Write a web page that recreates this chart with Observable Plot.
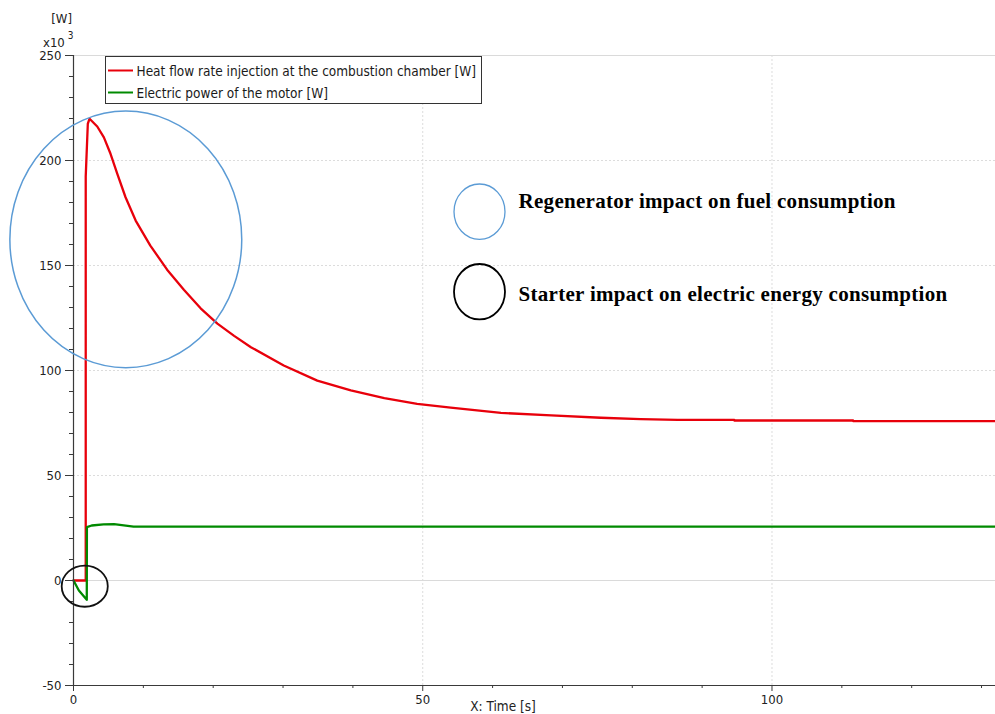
<!DOCTYPE html>
<html>
<head>
<meta charset="utf-8">
<script src="https://cdn.jsdelivr.net/npm/d3@7"></script>
<script src="https://cdn.jsdelivr.net/npm/@observablehq/plot@0.6"></script>
<style>
  html, body { margin: 0; padding: 0; background: #fff; }
  #chart { width: 995px; height: 714px; overflow: hidden; }
</style>
</head>
<body>
<div id="chart"></div>
<script>
// ---- Data (values in x10^3 W, time in s) ----
const heatTime  = [0, 1.75, 1.75, 2.05, 2.3, 3.4, 4.35, 5.3, 6.26, 7.45, 8.9, 11.0, 13.4, 15.8, 18.2, 20.6, 23.0, 25.4, 30.1, 34.9, 39.7, 44.5, 49.2, 54.0, 61.2, 68.4, 75.5, 81.2, 86.5, 94.6, 94.6, 111.6, 111.6, 132];
const heatFlow  = [0, 0, 192.4, 217.5, 219.9, 216.2, 211.0, 203.2, 193.7, 182.5, 171.4, 159.5, 148.0, 138.5, 129.6, 122.3, 116.5, 111.1, 102.4, 95.2, 90.5, 86.8, 84.1, 82.3, 79.8, 78.6, 77.5, 76.8, 76.5, 76.5, 76.2, 76.2, 75.9, 75.9];
const motorTime  = [0, 0.77, 1.9, 1.92, 2.6, 4.3, 5.8, 7.2, 8.6, 132];
const motorPower = [0, -4.8, -9.2, 25.4, 26.2, 26.7, 26.8, 26.3, 25.7, 25.7];

const seriesNames = ["Heat flow rate injection at the combustion chamber [W]", "Electric power of the motor [W]"];
const seriesColors = ["#e8000b", "#008a00"];

const yTicks = [-50, 0, 50, 100, 150, 200, 250];
const yMinorTicks = [-40, -30, -20, -10, 10, 20, 30, 40, 60, 70, 80, 90, 110, 120, 130, 140, 160, 170, 180, 190, 210, 220, 230, 240];
const xTicks = [0, 50, 100];
const xMinorTicks = [10, 20, 30, 40, 60, 70, 80, 90, 110, 120, 130];
const yGrid = [50, 100, 150, 200];
const xGrid = [50, 100];

const annotations = ["Regenerator impact on fuel consumption", "Starter impact on electric energy consumption"];

// table built from arrays
const heatData = heatTime.map((t, i) => ({t, v: heatFlow[i]}));
const motorData = motorTime.map((t, i) => ({t, v: motorPower[i]}));

const FONT = "'DejaVu Sans Condensed', 'DejaVu Sans', sans-serif";
const fmt = d => String(d);

const plot = Plot.plot({
  width: 995,
  height: 714,
  marginLeft: 73,
  marginRight: 0,
  marginTop: 55,
  marginBottom: 29,
  style: {background: "#fff", fontFamily: FONT, fontSize: "13px", color: "#222", fontStretch: "condensed"},
  x: {domain: [0, 132], axis: null},
  y: {domain: [-50, 250], axis: null},
  marks: [
    Plot.gridY(yGrid, {stroke: "#dcdcdc", strokeOpacity: 1, strokeDasharray: "2,2"}),
    Plot.gridX(xGrid, {stroke: "#dcdcdc", strokeOpacity: 1, strokeDasharray: "2,2"}),
    Plot.ruleY([0, 250], {stroke: "#dadada"}),
    Plot.line(heatData, {x: "t", y: "v", stroke: seriesColors[0], strokeWidth: 2.3, curve: "linear"}),
    Plot.line(motorData, {x: "t", y: "v", stroke: seriesColors[1], strokeWidth: 2.3, curve: "linear"}),
    Plot.ruleX([0], {stroke: "#3a3a3a", strokeWidth: 1.2}),
    Plot.ruleY([-50], {stroke: "#3a3a3a", strokeWidth: 1.2, insetLeft: -8}),
    Plot.axisY(yTicks, {tickSize: 8, tickPadding: 4, label: null, tickFormat: fmt, stroke: "#3a3a3a", fill: "#222", fontSize: 13}),
    Plot.axisY(yMinorTicks, {tickSize: 4, tickFormat: () => "", label: null, stroke: "#3a3a3a"}),
    Plot.axisX(xTicks, {tickSize: 6, tickPadding: 3, label: null, tickFormat: fmt, stroke: "#3a3a3a", fill: "#222", fontSize: 13}),
    Plot.axisX(xMinorTicks, {tickSize: 3, tickFormat: () => "", label: null, stroke: "#3a3a3a"})
  ]
});

document.getElementById("chart").appendChild(plot);

const svg = d3.select(plot);
const xs = plot.scale("x"), ys = plot.scale("y");
const X = v => xs.apply(v), Y = v => ys.apply(v);

// Highlight ellipses in data space
svg.append("ellipse")
  .attr("cx", X(7.56)).attr("cy", Y(162.2))
  .attr("rx", X(7.56 + 16.6) - X(7.56)).attr("ry", Y(162.2 - 61.1) - Y(162.2))
  .attr("fill", "none").attr("stroke", "#5b9bd5").attr("stroke-width", 1.5);
svg.append("ellipse")
  .attr("cx", X(1.68)).attr("cy", Y(-2.95))
  .attr("rx", X(1.68 + 3.3) - X(1.68)).attr("ry", Y(-2.95 - 9.8) - Y(-2.95))
  .attr("fill", "none").attr("stroke", "#111").attr("stroke-width", 1.8);

// Legend box
const lg = svg.append("g").attr("text-anchor", "start");
lg.append("rect").attr("x", 105.5).attr("y", 56.5).attr("width", 376).attr("height", 47)
  .attr("fill", "#fff").attr("stroke", "#333").attr("stroke-width", 1);
seriesNames.forEach((name, i) => {
  const cy = 70.5 + i * 22;
  lg.append("line").attr("x1", 108).attr("x2", 133).attr("y1", cy).attr("y2", cy)
    .attr("stroke", seriesColors[i]).attr("stroke-width", 2);
  lg.append("text").attr("x", 136.5).attr("y", cy + 5).attr("text-anchor", "start")
    .attr("font-family", FONT).attr("font-stretch", "condensed").attr("font-size", 13.5).attr("fill", "#1a1a1a")
    .text(name);
});

// Annotation key
const keyColors = ["#5b9bd5", "#000"];
annotations.forEach((txt, i) => {
  const cy = 211.7 + i * 80;
  svg.append("ellipse").attr("cx", 479.5).attr("cy", cy).attr("rx", 25.5).attr("ry", 27.7)
    .attr("fill", "none").attr("stroke", keyColors[i]).attr("stroke-width", i === 0 ? 1.3 : 1.8);
  svg.append("text").attr("x", 518.5).attr("y", 207.5 + i * 93).attr("text-anchor", "start")
    .attr("font-family", "'Liberation Serif', 'Times New Roman', serif").attr("font-weight", "bold")
    .attr("font-size", 21).attr("letter-spacing", 0.3).attr("fill", "#000").text(txt);
});

// Axis header labels
svg.append("text").attr("x", 72).attr("y", 23).attr("text-anchor", "end")
  .attr("font-family", FONT).attr("font-stretch", "condensed").attr("font-size", 13).attr("fill", "#222").text("[W]");
const unit = svg.append("text").attr("x", 43).attr("y", 46.5).attr("text-anchor", "start")
  .attr("font-family", FONT).attr("font-stretch", "condensed").attr("font-size", 13).attr("fill", "#222");
unit.append("tspan").text("x10");
unit.append("tspan").attr("dx", 3).attr("dy", -8).attr("font-size", 10).text("3");

// X axis title (sits at the bottom edge)
svg.append("text").attr("x", 503).attr("y", 711).attr("text-anchor", "middle")
  .attr("font-family", FONT).attr("font-stretch", "condensed").attr("font-size", 13.5).attr("fill", "#222").text("X: Time [s]");
</script>
</body>
</html>
